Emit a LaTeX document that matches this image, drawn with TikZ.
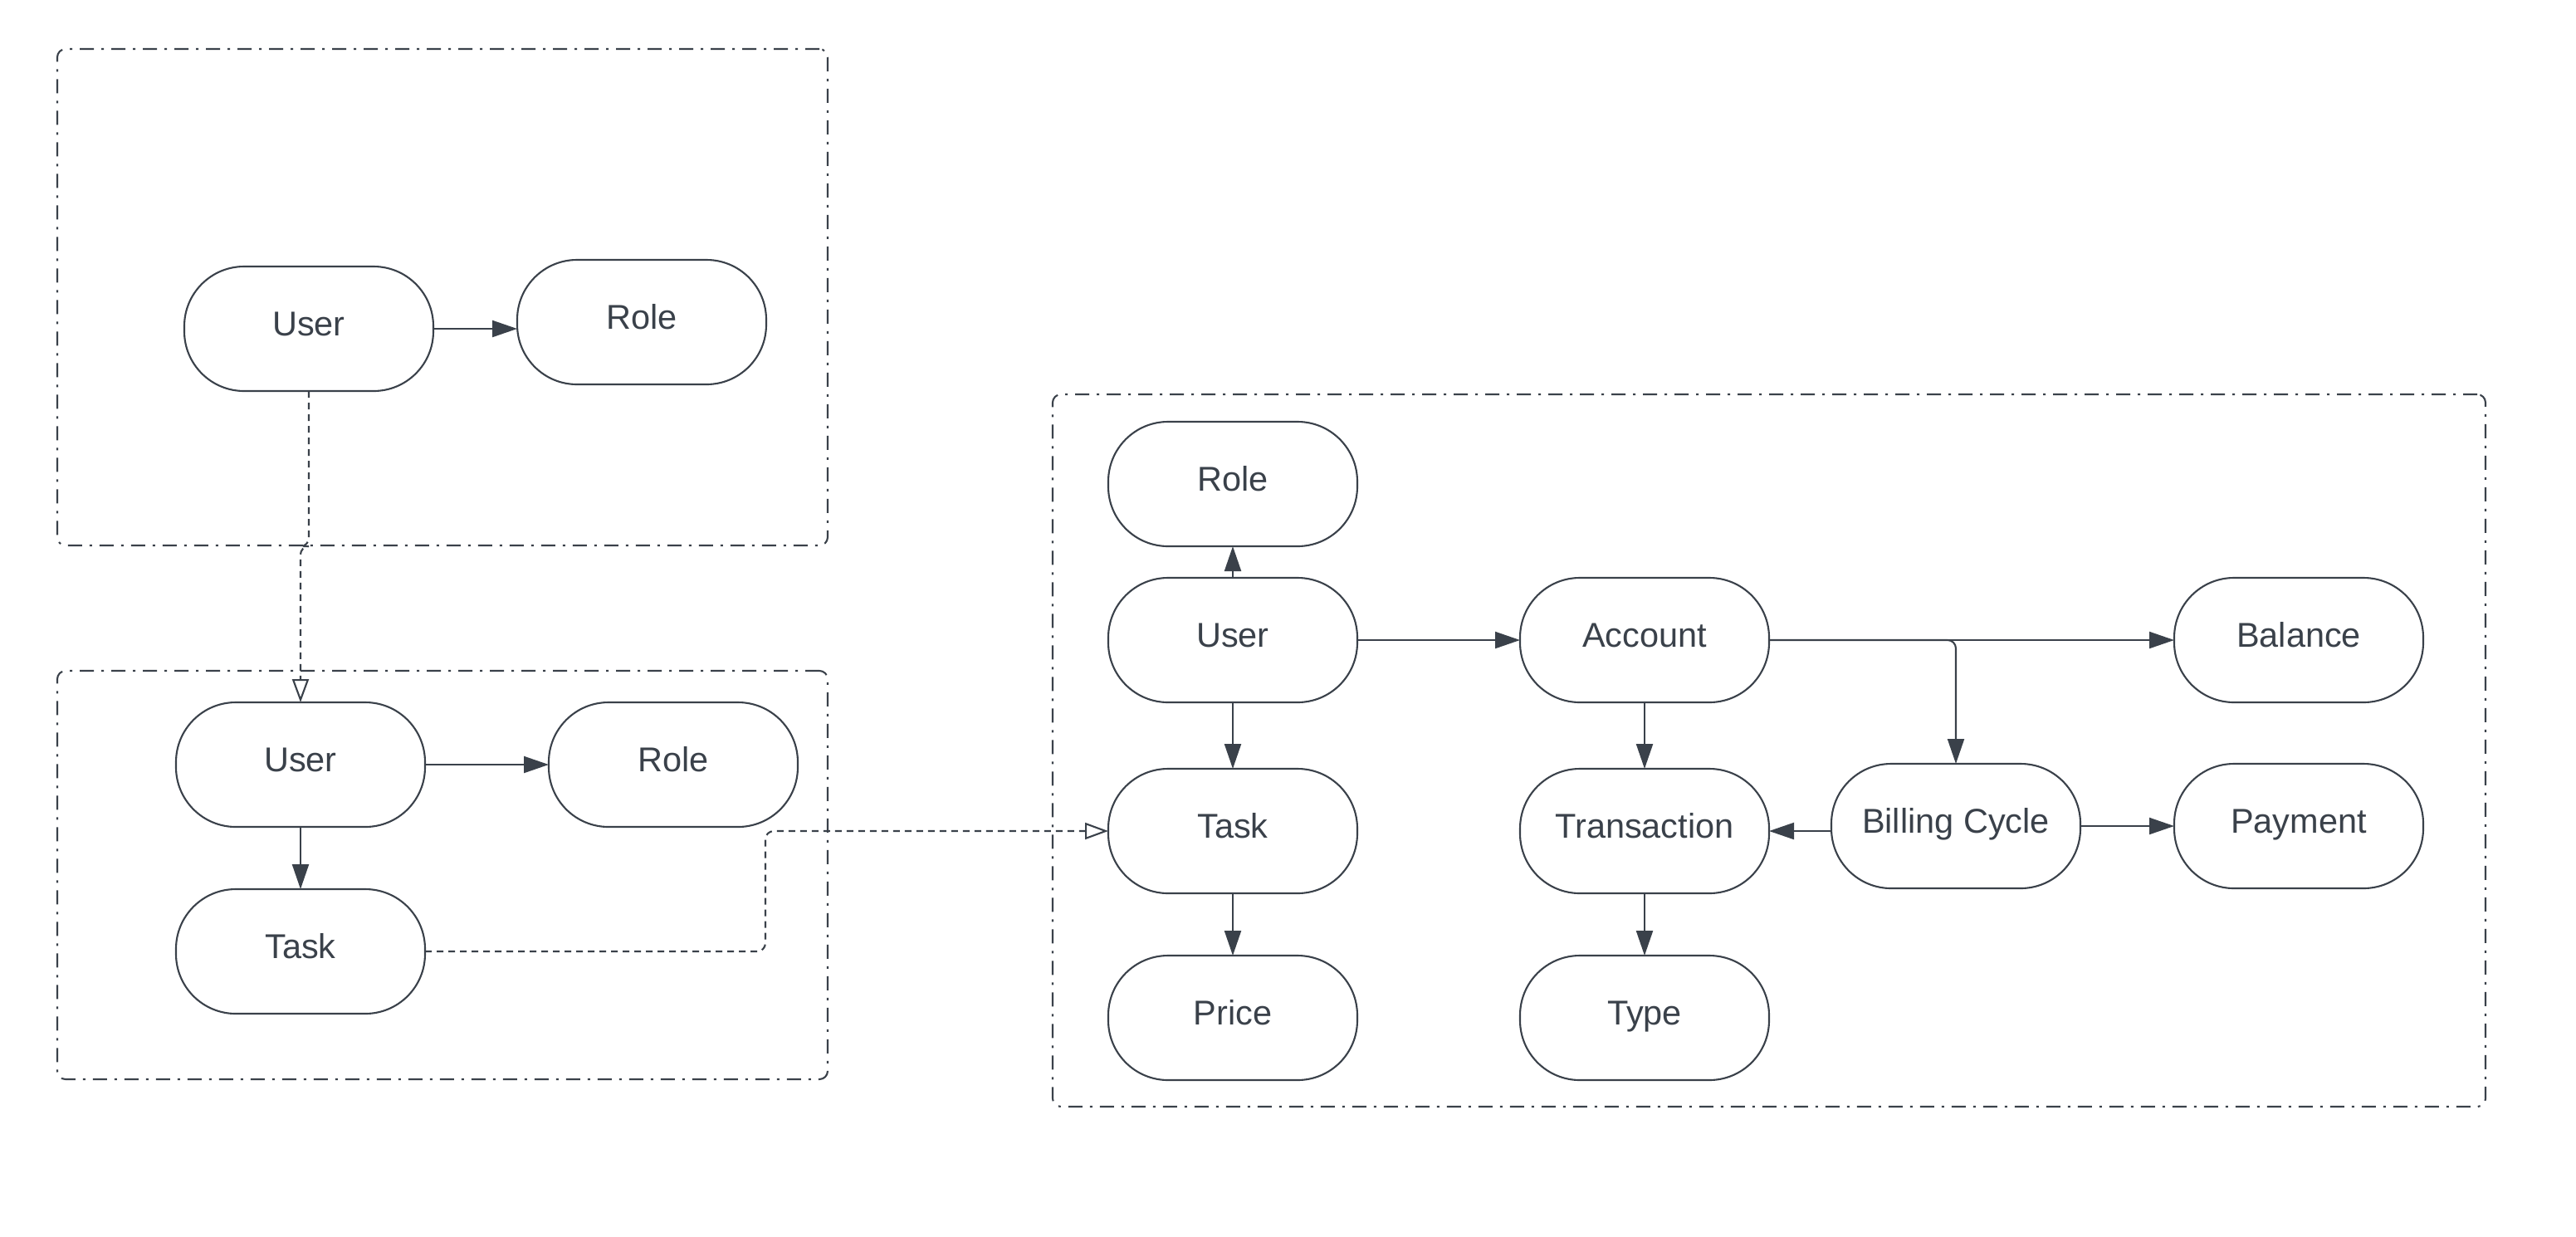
\documentclass[tikz,border=0pt]{standalone}
\usepackage{fontspec}
\setmainfont{Liberation Sans}
\usetikzlibrary{positioning,arrows.meta}
\definecolor{ink}{HTML}{3A414A}

\begin{document}
\begin{tikzpicture}[x=1mm, y=1mm,
  entity/.style={draw=ink, line width=0.6pt, rounded corners=7.2mm, minimum width=30mm, minimum height=15mm, outer sep=0pt, text=ink, text height=0.75em, text depth=0.25em, font=\fontsize{11.8pt}{14pt}\selectfont},
  group/.style={draw=ink, line width=0.6pt, rounded corners=1mm, dash pattern=on 1.7mm off 0.9mm on 0.3mm off 0.9mm, inner sep=0pt},
  arr/.style={-{Triangle[length=3mm, width=2mm]}, draw=ink, line width=0.6pt},
  dep/.style={-{Triangle[open, length=2.8mm, width=2mm]}, draw=ink, line width=0.6pt, dash pattern=on 0.8mm off 0.6mm, rounded corners=1mm}]
\useasboundingbox (0,0) rectangle (310.3,-148.9);
% groups
\node[group, minimum width=92.8mm, minimum height=59.8mm] (aBox) at (53.3,-35.8) {};
\node[group, minimum width=92.8mm, minimum height=49.2mm] (bBox) at (53.3,-105.4) {};
\node[group, minimum width=172.6mm, minimum height=85.8mm] (cBox) at (213.1,-90.4) {};
% top-left group
\node[entity] (aUser) at (37.2,-39.6) {User};
\node[entity, right=10.1mm of aUser, yshift=0.8mm] (aRole) {Role};
% bottom-left group
\node[entity] (bUser) at (36.2,-92.1) {User};
\node[entity, right=14.9mm of bUser] (bRole) {Role};
\node[entity, below=7.5mm of bUser] (bTask) {Task};
% right group
\node[entity] (cUser) at (148.5,-77.1) {User};
\node[entity, above=3.8mm of cUser] (cRole) {Role};
\node[entity, below=8mm of cUser] (cTask) {Task};
\node[entity, below=7.5mm of cTask] (cPrice) {Price};
\node[entity, right=19.6mm of cUser] (cAccount) {Account};
\node[entity, right=48.8mm of cAccount] (cBalance) {Balance};
\node[entity, below=8mm of cAccount] (cTrans) {Transaction};
\node[entity, below=7.5mm of cTrans] (cType) {Type};
\node[entity, right=7.5mm of cTrans, yshift=0.6mm] (cBilling) {Billing Cycle};
\node[entity, right=11.3mm of cBilling] (cPayment) {Payment};
% connectors
\draw[arr] (aUser.east) -- (aUser.east -| aRole.west);
\draw[dep] (aUser.south) -- (aUser.south |- aBox.south) -| (bUser.north);
\draw[arr] (bUser) -- (bRole);
\draw[arr] (bUser) -- (bTask);
\draw[dep] (bTask.east) -- ++(41mm,0) |- (cTask.west);
\draw[arr] (cUser) -- (cRole);
\draw[arr] (cUser) -- (cTask);
\draw[arr] (cTask) -- (cPrice);
\draw[arr] (cUser) -- (cAccount);
\draw[arr] (cAccount) -- (cBalance);
\draw[arr, rounded corners=1mm] (cAccount.east) -| (cBilling.north);
\draw[arr] (cAccount) -- (cTrans);
\draw[arr] (cTrans) -- (cType);
\draw[arr] (cBilling.west |- cTrans.east) -- (cTrans.east);
\draw[arr] (cBilling) -- (cPayment);
\end{tikzpicture}
\end{document}
